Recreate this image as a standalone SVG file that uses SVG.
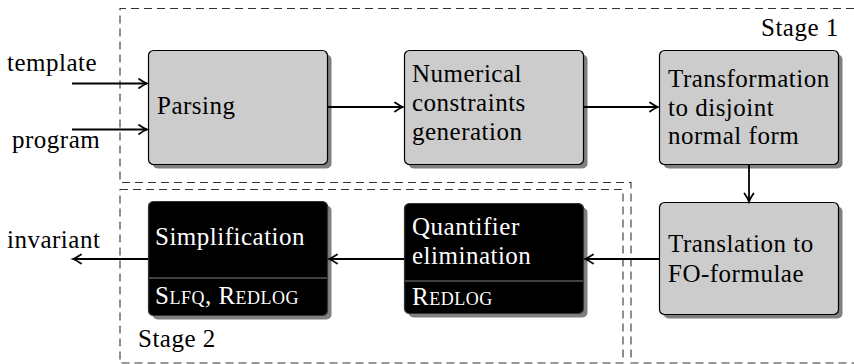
<svg xmlns="http://www.w3.org/2000/svg" width="854" height="364" viewBox="0 0 854 364">
<style>
.box{fill:#ccc;stroke:#000;stroke-width:1.2}
.bbox{fill:#000;stroke:#333;stroke-width:1.2}
.sh{fill:#808080}
.div{stroke:#808080;stroke-width:1.2}
.dash{fill:none;stroke:#333;stroke-width:1.1;stroke-dasharray:8 5}
.arr{fill:none;stroke:#000;stroke-width:1.8;marker-end:url(#ah)}
</style>
<defs>
<marker id="ah" markerUnits="userSpaceOnUse" markerWidth="14" markerHeight="14" viewBox="-10 -7 14 14" refX="0" refY="0" orient="auto">
<path d="M-8,-4.5 Q-3,-1 0,0 Q-3,1 -8,4.5" fill="none" stroke="#000" stroke-width="1.8" stroke-linecap="round"/>
</marker>
</defs>
<g id="stage1">
<path class="dash" d="M854,8.5 H120 V182.5 H631 V363 H854"/>
<text style="font-family:'Liberation Serif',serif;font-size:25px;letter-spacing:0.5px" fill="#000" x="761" y="35.5">Stage 1</text>
</g>
<g id="stage2">
<rect class="dash" x="120" y="189.5" width="503" height="173.5"/>
<text style="font-family:'Liberation Serif',serif;font-size:25px;letter-spacing:0.5px" fill="#000" x="138" y="346.5">Stage 2</text>
</g>
<g id="inputs">
<text style="font-family:'Liberation Serif',serif;font-size:25px;letter-spacing:0.5px" fill="#000" x="7" y="70.5">template</text>
<text style="font-family:'Liberation Serif',serif;font-size:25px;letter-spacing:0.5px" fill="#000" x="12" y="147.5">program</text>
<text style="font-family:'Liberation Serif',serif;font-size:25px;letter-spacing:0.5px" fill="#000" x="7" y="248">invariant</text>
</g>
<g id="parsing">
<rect class="sh" x="152.5" y="54.5" width="179" height="114" rx="5"/>
<rect class="box" x="148.5" y="50.5" width="179" height="114" rx="5"/>
<text style="font-family:'Liberation Serif',serif;font-size:25px;letter-spacing:0.5px" fill="#000" x="157" y="113.5">Parsing</text>
</g>
<g id="numerical">
<rect class="sh" x="408.5" y="54.5" width="179" height="114" rx="5"/>
<rect class="box" x="404.5" y="50.5" width="179" height="114" rx="5"/>
<text style="font-family:'Liberation Serif',serif;font-size:25px;letter-spacing:0.5px" fill="#000" x="412" y="82">Numerical</text>
<text style="font-family:'Liberation Serif',serif;font-size:25px;letter-spacing:0.5px" fill="#000" x="412" y="111">constraints</text>
<text style="font-family:'Liberation Serif',serif;font-size:25px;letter-spacing:0.5px" fill="#000" x="412" y="140">generation</text>
</g>
<g id="transformation">
<rect class="sh" x="663.5" y="54.5" width="179" height="114" rx="5"/>
<rect class="box" x="659.5" y="50.5" width="179" height="114" rx="5"/>
<text style="font-family:'Liberation Serif',serif;font-size:25px;letter-spacing:0.5px" fill="#000" x="668" y="86.5">Transformation</text>
<text style="font-family:'Liberation Serif',serif;font-size:25px;letter-spacing:0.5px" fill="#000" x="668" y="115.5">to disjoint</text>
<text style="font-family:'Liberation Serif',serif;font-size:25px;letter-spacing:0.5px" fill="#000" x="668" y="144">normal form</text>
</g>
<g id="translation">
<rect class="sh" x="663.5" y="206.5" width="179" height="112" rx="5"/>
<rect class="box" x="659.5" y="202.5" width="179" height="112" rx="5"/>
<text style="font-family:'Liberation Serif',serif;font-size:25px;letter-spacing:0.5px" fill="#000" x="668" y="251.5">Translation to</text>
<text style="font-family:'Liberation Serif',serif;font-size:25px;letter-spacing:0.5px" fill="#000" x="668" y="282">FO-formulae</text>
</g>
<g id="quantifier">
<rect class="sh" x="408.5" y="207.5" width="179" height="110" rx="5"/>
<rect class="bbox" x="404.5" y="203.5" width="179" height="110" rx="5"/>
<line class="div" x1="405" y1="281" x2="583" y2="281"/>
<text style="font-family:'Liberation Serif',serif;font-size:25px;letter-spacing:0.5px" fill="#fff" x="412" y="234.5">Quantifier</text>
<text style="font-family:'Liberation Serif',serif;font-size:25px;letter-spacing:0.5px" fill="#fff" x="412" y="263.5">elimination</text>
<text style="font-family:'Liberation Serif',serif;font-size:25px;letter-spacing:0.5px;font-variant:small-caps" fill="#fff" x="412" y="304.5">Redlog</text>
</g>
<g id="simplification">
<rect class="sh" x="152.5" y="205.5" width="179" height="114" rx="5"/>
<rect class="bbox" x="148.5" y="201.5" width="179" height="114" rx="5"/>
<line class="div" x1="149" y1="278" x2="327" y2="278"/>
<text style="font-family:'Liberation Serif',serif;font-size:25px;letter-spacing:0.5px" fill="#fff" x="155" y="245">Simplification</text>
<text style="font-family:'Liberation Serif',serif;font-size:25px;letter-spacing:0.5px;font-variant:small-caps" fill="#fff" x="155" y="303.5">Slfq, Redlog</text>
</g>
<g id="connectors">
<path class="arr" d="M72,83.5 H147"/>
<path class="arr" d="M72,129.5 H147"/>
<path class="arr" d="M328,107 H403"/>
<path class="arr" d="M584,107 H658"/>
<path class="arr" d="M749,165 V201.5"/>
<path class="arr" d="M659,259 H585"/>
<path class="arr" d="M404,259 H329"/>
<path class="arr" d="M148,259 H73"/>
</g>
</svg>
